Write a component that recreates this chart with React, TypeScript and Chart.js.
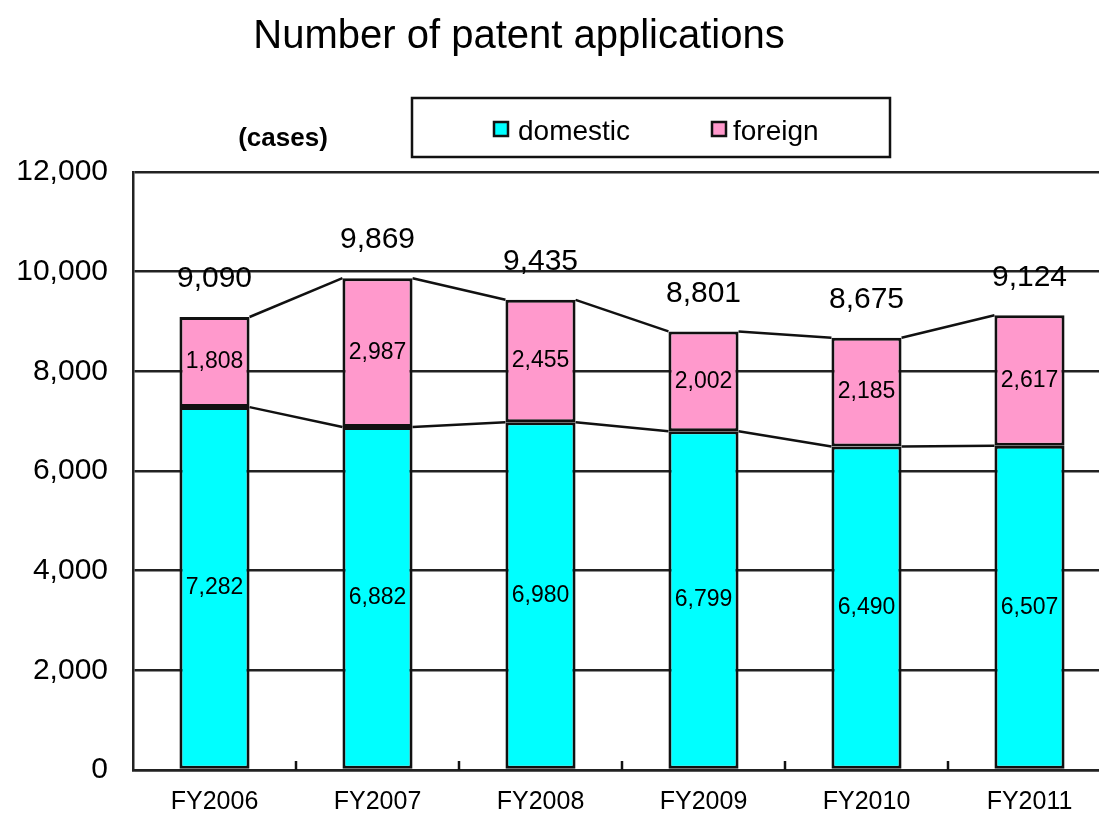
import React, { useEffect, useRef } from 'react';
import { Chart, registerables } from 'chart.js';

Chart.register(...registerables);

const categories = ['FY2006', 'FY2007', 'FY2008', 'FY2009', 'FY2010', 'FY2011'];
const domestic = [7282, 6882, 6980, 6799, 6490, 6507];
const foreign = [1808, 2987, 2455, 2002, 2185, 2617];
const seriesNames = ['domestic', 'foreign'];
const seriesColors = ['#00FFFF', '#FF99CC'];
const titleText = 'Number of patent applications';
const unitText = '(cases)';

const FONT = '"Liberation Sans", Arial, sans-serif';
const fmt = (v: number) => v.toLocaleString('en-US');

const extras = {
  id: 'extras',
  afterDatasetsDraw(chart: any) {
    const ctx = chart.ctx;
    ctx.save();
    // series lines
    ctx.strokeStyle = '#111';
    ctx.lineWidth = 2.5;
    chart.data.datasets.forEach((_: any, d: number) => {
      const els = chart.getDatasetMeta(d).data;
      for (let i = 0; i < els.length - 1; i++) {
        const a = els[i].getProps(['x', 'y', 'width'], true);
        const b = els[i + 1].getProps(['x', 'y', 'width'], true);
        ctx.beginPath();
        ctx.moveTo(a.x + a.width / 2, a.y);
        ctx.lineTo(b.x - b.width / 2, b.y);
        ctx.stroke();
      }
    });
    // x tick marks between categories
    const area = chart.chartArea;
    const base = chart.getDatasetMeta(0).data;
    for (let i = 1; i < base.length; i++) {
      const x = (base[i - 1].x + base[i].x) / 2;
      ctx.beginPath();
      ctx.moveTo(x, area.bottom);
      ctx.lineTo(x, area.bottom - 9);
      ctx.stroke();
    }
    // segment labels
    ctx.fillStyle = '#000';
    ctx.textAlign = 'center';
    ctx.textBaseline = 'middle';
    ctx.font = `23px ${FONT}`;
    chart.data.datasets.forEach((ds: any, d: number) => {
      const els = chart.getDatasetMeta(d).data;
      els.forEach((el: any, i: number) => {
        const c = el.getCenterPoint();
        ctx.fillText(fmt(ds.data[i]), c.x, c.y);
      });
    });
    // totals
    ctx.font = `30px ${FONT}`;
    const last = chart.getDatasetMeta(chart.data.datasets.length - 1).data;
    last.forEach((el: any, i: number) => {
      const total = domestic[i] + foreign[i];
      ctx.fillText(fmt(total), el.x, el.y - 38);
    });
    ctx.restore();
  },
  afterDraw(chart: any) {
    const ctx = chart.ctx;
    ctx.save();
    ctx.fillStyle = '#000';
    // title
    ctx.font = `40px ${FONT}`;
    ctx.textAlign = 'center';
    ctx.textBaseline = 'alphabetic';
    ctx.fillText(titleText, 519, 48);
    // unit
    ctx.font = `bold 26px ${FONT}`;
    ctx.textBaseline = 'middle';
    ctx.fillText(unitText, 283, 139);
    // legend box
    ctx.strokeStyle = '#111';
    ctx.lineWidth = 2.5;
    ctx.strokeRect(412, 98, 478, 59);
    const items = [
      { x: 494, tx: 518 },
      { x: 712, tx: 733 },
    ];
    ctx.font = `28px ${FONT}`;
    ctx.textAlign = 'left';
    items.forEach((it, k) => {
      ctx.fillStyle = seriesColors[k];
      ctx.fillRect(it.x, 122, 14, 14);
      ctx.lineWidth = 2.5;
      ctx.strokeRect(it.x, 122, 14, 14);
      ctx.fillStyle = '#000';
      ctx.fillText(seriesNames[k], it.tx, 132);
    });
    ctx.restore();
  },
};

export default function App() {
  const ref = useRef<HTMLCanvasElement>(null);
  useEffect(() => {
    if (!ref.current) return;
    const chart = new Chart(ref.current, {
      type: 'bar',
      data: {
        labels: categories,
        datasets: [
          {
            label: seriesNames[0],
            data: domestic,
            backgroundColor: seriesColors[0],
            borderColor: '#111',
            borderWidth: 3,
            borderSkipped: false,
          },
          {
            label: seriesNames[1],
            data: foreign,
            backgroundColor: seriesColors[1],
            borderColor: '#111',
            borderWidth: 3,
            borderSkipped: false,
          },
        ],
      },
      options: {
        responsive: false,
        animation: false,
        layout: { padding: { top: 172, left: 0, right: 1, bottom: 0 } },
        datasets: { bar: { categoryPercentage: 1, barPercentage: 0.43 } },
        plugins: {
          legend: { display: false },
          title: { display: false },
          tooltip: { enabled: false },
        },
        scales: {
          x: {
            stacked: true,
            grid: { display: false },
            border: { display: true, color: '#222', width: 2.5 },
            ticks: { color: '#000', font: { size: 25, family: FONT }, padding: 9, maxRotation: 0 },
            afterFit: (s: any) => { s.height = 40; },
          },
          y: {
            stacked: true,
            min: 0,
            max: 12000,
            grid: { color: '#222', lineWidth: 2.5, drawTicks: false },
            border: { display: true, color: '#222', width: 2.5 },
            ticks: {
              stepSize: 2000,
              color: '#000',
              font: { size: 30, family: FONT },
              padding: 25,
              callback: (v: any) => fmt(Number(v)),
            },
            afterFit: (s: any) => { s.width = 133; },
          },
        },
      },
      plugins: [extras],
    } as any);
    return () => chart.destroy();
  }, []);
  return (
    <div style={{ position: 'fixed', left: 0, top: 0, width: 1099, height: 813, overflow: 'hidden', background: '#fff' }}>
      <canvas ref={ref} width={1112} height={813} style={{ display: 'block' }} />
    </div>
  );
}
